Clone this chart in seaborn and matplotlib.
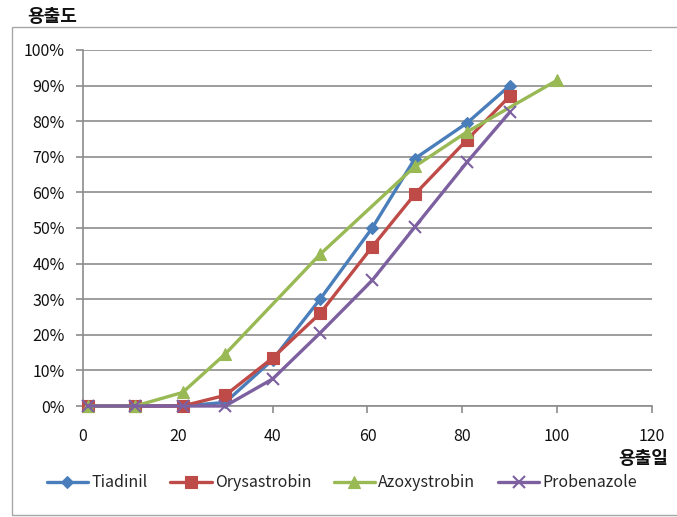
import matplotlib
matplotlib.use("Agg")
import matplotlib.pyplot as plt
import numpy as np
import pandas as pd
import seaborn as sns
from matplotlib.patches import Rectangle
from matplotlib.ticker import FuncFormatter, MultipleLocator

# Dissolution days and cumulative dissolution rate (%)
days = [1, 11, 21, 30, 40, 50, 61, 70, 81, 90]
tiadinil = [0, 0, 0, 1, 13, 30, 50, 69.5, 79.5, 90]
orysastrobin = [0, 0, 0, 3, 13.5, 26, 44.7, 59.5, 74.8, 87]
azoxy_days = [1, 11, 21, 30, 50, 70, 81, 100]
azoxystrobin = [0, 0, 3.8, 14.6, 42.6, 67.3, 77, 91.5]
probenazole = [0, 0, 0, 0, 7.6, 20.5, 35.3, 50.3, 68.5, 82.5]

series_names = ["Tiadinil", "Orysastrobin", "Azoxystrobin", "Probenazole"]
colors = ["#4A7EBB", "#BE4B48", "#98B954", "#7D60A0"]
markers = ["D", "s", "^", "x"]
marker_sizes = [6.5, 9, 8.5, 8]

frames = [
    pd.DataFrame({"day": days, "rate": tiadinil, "name": "Tiadinil"}),
    pd.DataFrame({"day": days, "rate": orysastrobin, "name": "Orysastrobin"}),
    pd.DataFrame({"day": azoxy_days, "rate": azoxystrobin, "name": "Azoxystrobin"}),
    pd.DataFrame({"day": days, "rate": probenazole, "name": "Probenazole"}),
]

sns.set_theme(style="white")
plt.rcParams["font.family"] = ["Noto Sans CJK KR", "DejaVu Sans"]

fig = plt.figure(figsize=(6.77, 5.17), dpi=100)
ax = fig.add_axes([0.1226, 0.2147, 0.963 - 0.1226, 0.9033 - 0.2147])

grid_color = "#8C8C8C"
for frame, name, color, marker, ms in zip(frames, series_names, colors, markers, marker_sizes):
    sns.lineplot(
        data=frame, x="day", y="rate", ax=ax, color=color, linewidth=2.4,
        marker=marker, markersize=ms, markeredgecolor=color,
        markeredgewidth=1.5 if marker == "x" else 0.8,
        label=name, clip_on=False, zorder=3,
    )

ax.set_xlim(0, 120)
ax.set_ylim(0, 100)
ax.xaxis.set_major_locator(MultipleLocator(20))
ax.yaxis.set_major_locator(MultipleLocator(10))
ax.yaxis.set_major_formatter(FuncFormatter(lambda v, p: f"{v:.0f}%"))
ax.grid(axis="y", color=grid_color, linewidth=1.2)
ax.set_axisbelow(True)
ax.set_xlabel("")
ax.set_ylabel("")

for side in ["top", "right"]:
    ax.spines[side].set_visible(False)
for side in ["left", "bottom"]:
    ax.spines[side].set_color(grid_color)
    ax.spines[side].set_linewidth(1.2)

ax.tick_params(axis="y", left=True, length=5, width=1.2, color=grid_color,
               pad=8, labelsize=11.5, labelcolor="#111111")
ax.tick_params(axis="x", bottom=True, length=5, width=1.2, color=grid_color,
               pad=11, labelsize=11.5, labelcolor="#111111")

handles, labels = ax.get_legend_handles_labels()
ax.get_legend().remove()
fig.legend(handles, labels, loc="center", bbox_to_anchor=(0.505, 0.066),
           ncol=4, frameon=False, fontsize=11.5, handlelength=2.6,
           handletextpad=0.2, columnspacing=1.4)

fig.text(27 / 677, 1 - 16 / 517, "용출도", fontsize=13, fontweight="bold",
         ha="left", va="center", color="#111111")
fig.text(668 / 677, 1 - 459 / 517, "용출일", fontsize=13, fontweight="bold",
         ha="right", va="center", color="#111111")

fig.patches.append(Rectangle((12 / 677, 2 / 517), 1.0, 1 - 29 / 517,
                             transform=fig.transFigure, fill=False,
                             edgecolor="#A6A6A6", linewidth=1.0, clip_on=False))

fig.savefig("out.png", dpi=100, facecolor="white")
